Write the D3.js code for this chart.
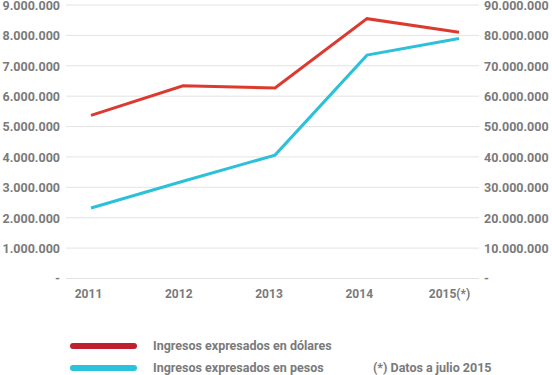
<!DOCTYPE html>
<html>
<head>
<meta charset="utf-8">
<script src="https://cdn.jsdelivr.net/npm/d3@7"></script>
<style>
  body { margin: 0; background: #fff; }
  text { font-family: "Roboto", "DejaVu Sans", sans-serif; font-weight: 700; fill: #7a7a7a; }
</style>
</head>
<body>
<div id="chart"></div>
<script>
const years = ["2011", "2012", "2013", "2014", "2015(*)"];
const dolares = [5370000, 6340000, 6270000, 8550000, 8100000];
const pesos = [23200000, 32000000, 40600000, 73500000, 79000000];
const leftTicks = [0, 1e6, 2e6, 3e6, 4e6, 5e6, 6e6, 7e6, 8e6, 9e6];
const rightTicks = [0, 1e7, 2e7, 3e7, 4e7, 5e7, 6e7, 7e7, 8e7, 9e7];
const legendLabels = ["Ingresos expresados en dólares", "Ingresos expresados en pesos"];
const note = "(*) Datos a julio 2015";

const width = 552, height = 375;
const gridLeft = 66, gridRight = 479, plotTop = 5, plotBottom = 278.5;

const svg = d3.select("#chart").append("svg")
  .attr("width", width)
  .attr("height", height);

const yL = d3.scaleLinear().domain([0, 9e6]).range([plotBottom, plotTop]);
const yR = d3.scaleLinear().domain([0, 9e7]).range([plotBottom, plotTop]);
const x = d3.scalePoint().domain(years).range([91, 459]);
const xLabel = d3.scalePoint().domain(years).range([88, 449]);

const fmt = v => v === 0 ? "-" : d3.format(",")(v).replace(/,/g, ".");

// gridlines
svg.append("g")
  .selectAll("line")
  .data(leftTicks)
  .join("line")
  .attr("x1", gridLeft).attr("x2", gridRight)
  .attr("y1", d => yL(d)).attr("y2", d => yL(d))
  .attr("stroke", "#e3e3e3")
  .attr("stroke-width", 1);

// left axis
const left = svg.append("g")
  .attr("transform", `translate(60,0)`)
  .call(d3.axisLeft(yL).tickValues(leftTicks).tickFormat(fmt).tickSize(0).tickPadding(0));
left.select(".domain").remove();
left.selectAll("text").style("font-size", "12.5px").attr("dy", "0.35em");

// right axis
const right = svg.append("g")
  .attr("transform", `translate(484,0)`)
  .call(d3.axisRight(yR).tickValues(rightTicks).tickFormat(fmt).tickSize(0).tickPadding(0));
right.select(".domain").remove();
right.selectAll("text").style("font-size", "12.5px").attr("dy", "0.35em");

// x axis labels
const bottomAxis = svg.append("g")
  .attr("transform", `translate(0,${plotBottom})`)
  .call(d3.axisBottom(xLabel).tickSize(0).tickPadding(11));
bottomAxis.select(".domain").remove();
bottomAxis.selectAll("text").style("font-size", "12px");

const line = y => d3.line()
  .x((d, i) => x(years[i]))
  .y(d => y(d));

svg.append("path")
  .datum(pesos)
  .attr("fill", "none")
  .attr("stroke", "#2cc0d9")
  .attr("stroke-width", 3)
  .attr("d", line(yR));

svg.append("path")
  .datum(dolares)
  .attr("fill", "none")
  .attr("stroke", "#dc3a2f")
  .attr("stroke-width", 3)
  .attr("d", line(yL));

// legend
const legendColors = ["#c01f32", "#2bc2dc"];
const legend = svg.append("g");
legendLabels.forEach((label, i) => {
  const ly = 346 + i * 22;
  legend.append("line")
    .attr("x1", 73).attr("x2", 134)
    .attr("y1", ly).attr("y2", ly)
    .attr("stroke", legendColors[i])
    .attr("stroke-width", 6)
    .attr("stroke-linecap", "round");
  legend.append("text")
    .attr("x", 153).attr("y", ly)
    .attr("dy", "0.35em")
    .style("font-size", "12.5px")
    .text(label);
});
legend.append("text")
  .attr("x", 373).attr("y", 368)
  .attr("dy", "0.35em")
  .style("font-size", "12.5px")
  .text(note);
</script>
</body>
</html>
